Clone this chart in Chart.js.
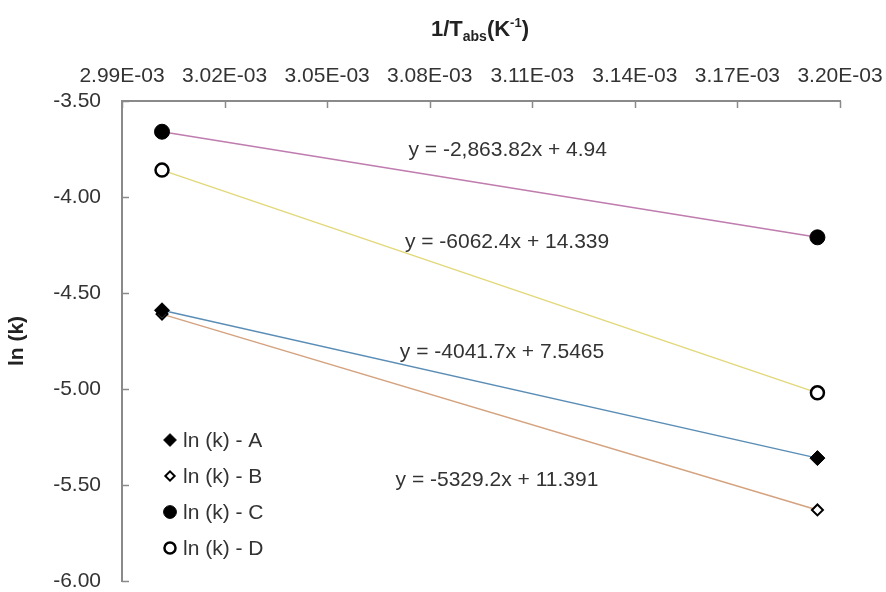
<!DOCTYPE html>
<html>
<head>
<meta charset="utf-8">
<script src="https://cdn.jsdelivr.net/npm/chart.js@4.4.1/dist/chart.umd.min.js"></script>
<style>
html,body{margin:0;padding:0;background:#fff;}
#wrap{width:886px;height:592px;position:relative;}
</style>
</head>
<body>
<div id="wrap"><canvas id="c" width="886" height="592"></canvas></div>
<script>
// ---- data ----
const xValues = [0.0030017, 0.0031934];          // 1/T (K^-1)
const seriesA = [-4.59, -5.36];
const seriesB = [-4.61, -5.63];
const seriesC = [-3.66, -4.21];
const seriesD = [-3.86, -5.02];
const seriesNames = ['ln (k) - A', 'ln (k) - B', 'ln (k) - C', 'ln (k) - D'];
const equations = ['y = -4041.7x + 7.5465', 'y = -5329.2x + 11.391', 'y = -2,863.82x + 4.94', 'y = -6062.4x + 14.339'];
const xTickLabels = ['2.99E-03','3.02E-03','3.05E-03','3.08E-03','3.11E-03','3.14E-03','3.17E-03','3.20E-03'];
const yTickLabels = ['-6.00','-5.50','-5.00','-4.50','-4.00','-3.50'];

const pts = arr => arr.map((y, i) => ({x: xValues[i], y}));
const FONT = 'Liberation Sans, Arial, sans-serif';
const TXT = '#333333';
const AXIS = '#8a8a8a';

const styles = [
  {line:'#5a8db5', ps:'rectRot', r:7.5, fill:'#000', bw:1},
  {line:'#d4a27e', ps:'rectRot', r:5.5, fill:'#fff', bw:2},
  {line:'#bf7cae', ps:'circle', r:7.5, fill:'#000', bw:1},
  {line:'#e2d87a', ps:'circle', r:6.5, fill:'#fff', bw:2.5}
];
const allSeries = [seriesA, seriesB, seriesC, seriesD];

const datasets = allSeries.map((s, i) => ({
  label: seriesNames[i],
  data: pts(s),
  showLine: true,
  borderColor: styles[i].line,
  borderWidth: 1.5,
  pointStyle: styles[i].ps,
  pointRadius: styles[i].r,
  pointBackgroundColor: styles[i].fill,
  pointBorderColor: '#000',
  pointBorderWidth: styles[i].bw,
  pointHoverRadius: styles[i].r
}));

// equation label anchors (text left / middle, relative to chart area)
const eqPos = [
  {fx:0.387, fy:0.524},
  {fx:0.381, fy:0.791},
  {fx:0.399, fy:0.102},
  {fx:0.394, fy:0.294}
];

const overlay = {
  id: 'overlay',
  afterDraw(chart) {
    const {ctx, chartArea: ca, scales} = chart;
    ctx.save();
    // inward tick marks
    ctx.strokeStyle = AXIS; ctx.lineWidth = 1.5;
    scales.x.ticks.forEach((t, i) => {
      const px = Math.round(scales.x.getPixelForTick(i)) + 0.5;
      ctx.beginPath(); ctx.moveTo(px, ca.top); ctx.lineTo(px, ca.top + 7); ctx.stroke();
    });
    scales.y.ticks.forEach((t, i) => {
      const py = Math.round(scales.y.getPixelForTick(i)) + 0.5;
      ctx.beginPath(); ctx.moveTo(ca.left, py); ctx.lineTo(ca.left + 7, py); ctx.stroke();
    });
    // equations
    ctx.fillStyle = TXT;
    ctx.font = '21px ' + FONT;
    ctx.textBaseline = 'middle'; ctx.textAlign = 'left';
    equations.forEach((e, i) => {
      ctx.fillText(e, ca.left + eqPos[i].fx * (ca.right - ca.left), ca.top + eqPos[i].fy * (ca.bottom - ca.top));
    });
    // legend
    const lx = ca.left + 48, ly0 = ca.top + 339, dy = 36;
    seriesNames.forEach((n, i) => {
      const y = ly0 + i * dy;
      ctx.fillStyle = styles[i].fill; ctx.strokeStyle = '#000';
      ctx.lineWidth = styles[i].bw;
      Chart.helpers.drawPoint(ctx, {pointStyle: styles[i].ps, radius: styles[i].r * 0.85, borderWidth: styles[i].bw}, lx, y);
      ctx.fillStyle = TXT;
      ctx.font = '21px ' + FONT;
      ctx.textAlign = 'left'; ctx.textBaseline = 'middle';
      ctx.fillText(n, lx + 13, y + 1);
    });
    // x axis title with sub/superscript
    const cx = 480, ty = 30;
    const parts = [
      {t:'1/T', f:'bold 22px ', dy:0},
      {t:'abs', f:'bold 14px ', dy:7},
      {t:'(K', f:'bold 22px ', dy:0},
      {t:'-1', f:'bold 13px ', dy:-7},
      {t:')', f:'bold 22px ', dy:0}
    ];
    let w = 0;
    parts.forEach(p => { ctx.font = p.f + FONT; p.w = ctx.measureText(p.t).width; w += p.w; });
    let x = cx - w / 2;
    ctx.fillStyle = '#222';
    ctx.textAlign = 'left'; ctx.textBaseline = 'middle';
    parts.forEach(p => { ctx.font = p.f + FONT; ctx.fillText(p.t, x, ty + p.dy); x += p.w; });
    ctx.restore();
  }
};

new Chart(document.getElementById('c'), {
  type: 'scatter',
  data: {datasets},
  options: {
    responsive: false,
    animation: false,
    devicePixelRatio: 1,
    layout: {padding: {left: 0, top: 0, right: 46, bottom: 11}},
    plugins: {legend: {display: false}, tooltip: {enabled: false}},
    scales: {
      x: {
        type: 'linear', position: 'top',
        min: 0.00299, max: 0.00320,
        ticks: {stepSize: 0.00003, color: TXT, font: {family: FONT, size: 21}, padding: 12,
                maxRotation: 0, autoSkip: false,
                callback: (v, i) => xTickLabels[i]},
        grid: {display: true, drawOnChartArea: false, drawTicks: false},
        border: {display: true, color: AXIS, width: 2},
        afterFit: s => { s.height = 101; s.paddingLeft = 0; s.paddingRight = 0; }
      },
      y: {
        type: 'linear', position: 'left',
        min: -6, max: -3.5,
        ticks: {stepSize: 0.5, color: TXT, font: {family: FONT, size: 21}, padding: 21,
                callback: (v, i) => yTickLabels[i]},
        title: {display: true, text: 'ln (k)', color: '#222', font: {family: FONT, size: 21, weight: 'bold'}, padding: {top: 5, bottom: 0}},
        grid: {display: true, drawOnChartArea: false, drawTicks: false},
        border: {display: true, color: AXIS, width: 2},
        afterFit: s => { s.width = 122; s.paddingTop = 0; s.paddingBottom = 0; }
      }
    }
  },
  plugins: [overlay]
});
</script>
</body>
</html>
